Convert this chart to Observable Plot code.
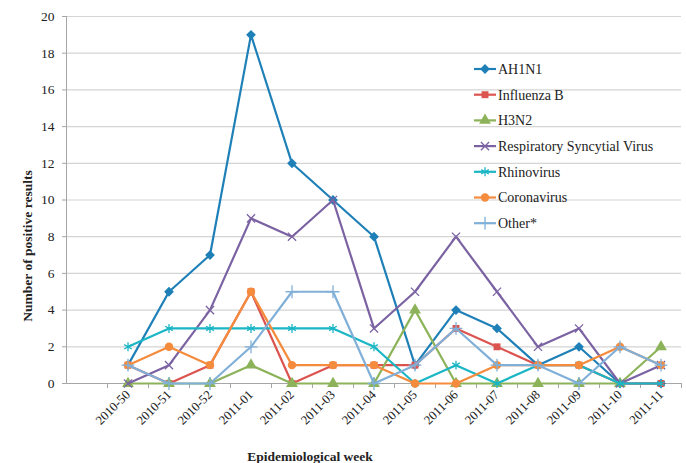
<!DOCTYPE html>
<html><head><meta charset="utf-8">
<script src="https://cdn.jsdelivr.net/npm/d3@7"></script>
<script src="https://cdn.jsdelivr.net/npm/@observablehq/plot@0.6"></script>
<style>
body{margin:0;background:#fff;}
#chart{position:relative;width:686px;height:463px;font-family:"Liberation Serif","Times New Roman",serif;color:#222;}
.ttl{position:absolute;font-weight:bold;font-size:13.5px;white-space:nowrap;}
</style></head><body><div id="chart"></div>
<script>
const weeks = ["2010-50","2010-51","2010-52","2011-01","2011-02","2011-03","2011-04","2011-05","2011-06","2011-07","2011-08","2011-09","2011-10","2011-11"];
const ah1n1       = [1,5,7,19,12,10,8,1,4,3,1,2,0,0];
const influenzaB  = [1,0,1,5,0,1,1,1,3,2,1,1,0,0];
const h3n2        = [0,0,0,1,0,0,0,4,0,0,0,0,0,2];
const rsv         = [0,1,4,9,8,10,3,5,8,5,2,3,0,1];
const rhinovirus  = [2,3,3,3,3,3,2,0,1,0,1,1,0,0];
const coronavirus = [1,2,1,5,1,1,1,0,0,1,1,1,2,1];
const other       = [1,0,0,2,5,5,0,1,3,1,1,0,2,1];
const seriesNames = ["AH1N1","Influenza B","H3N2","Respiratory Syncytial Virus","Rhinovirus","Coronavirus","Other*"];
const seriesValues = [ah1n1, influenzaB, h3n2, rsv, rhinovirus, coronavirus, other];
const colors = ["#1f80b8","#dc5450","#8cb35a","#7b62a2","#1bb6c6","#f58b3d","#80b0d8"];
const symbols = ["diamond2","square","triangle","times","asterisk","circle","plus"];
const filled  = [true,true,true,false,false,true,false];
const sizes   = [4.4,3.9,4.4,3.8,4.2,4.2,4.2];
const yTicks = d3.range(0, 21, 2);

const n = weeks.length;
const rows = seriesNames.map((s, k) => seriesValues[k].map((v, i) => ({series: s, k, idx: i + 1, week: weeks[i], value: v})));
const boundaries = d3.range(0.5, n + 1, 1);

const marks = [
  Plot.gridY(yTicks, {stroke: "#d4d4d4", strokeOpacity: 1, strokeWidth: 1.2}),
  Plot.ruleX([-0.5], {stroke: "#a6a6a6"}),
  Plot.ruleY([0], {stroke: "#a6a6a6"}),
  Plot.axisY(yTicks, {tickSize: 4, tickPadding: 8, label: null, fontSize: 13.5, stroke: "#a6a6a6", color: "#222"}),
  Plot.axisX(boundaries, {tickSize: 5, tickFormat: () => "", label: null, stroke: "#a6a6a6"}),
  Plot.axisX(d3.range(1, n + 1), {tickSize: 0, tickPadding: 9, tickRotate: -45, tickFormat: i => weeks[i - 1], label: null, fontSize: 12.8, color: "#222"})
];
rows.forEach((data, k) => {
  marks.push(Plot.line(data, {x: "idx", y: "value", stroke: colors[k], strokeWidth: 2.2}));
  marks.push(Plot.dot(data, filled[k]
    ? {x: "idx", y: "value", symbol: () => symbols[k], r: sizes[k], fill: colors[k], stroke: "none"}
    : {x: "idx", y: "value", symbol: () => symbols[k], r: sizes[k], stroke: colors[k], strokeWidth: 1.3, fill: "none"}));
});

const svg = Plot.plot({
  width: 686, height: 463,
  marginLeft: 66, marginRight: 5, marginTop: 16, marginBottom: 80,
  style: {fontFamily: "Liberation Serif, Times New Roman, serif", background: "#fff", color: "#222"},
  x: {type: "linear", domain: [-0.5, n + 0.5], axis: null},
  y: {domain: [0, 20], axis: null},
  symbol: {type: "identity"},
  marks
});
const chart = document.getElementById("chart");
chart.appendChild(svg);

// legend
const lg = d3.select(svg).append("g")
  .attr("font-family", "Liberation Serif, Times New Roman, serif")
  .attr("font-size", 14).attr("fill", "#222").attr("text-anchor", "start");
const symMap = {diamond2: d3.symbolDiamond2, square: d3.symbolSquare, triangle: d3.symbolTriangle, times: d3.symbolTimes, asterisk: d3.symbolAsterisk, circle: d3.symbolCircle, plus: d3.symbolPlus};
seriesNames.forEach((s, k) => {
  const g = lg.append("g").attr("transform", `translate(474,${69 + k * 25.7})`);
  g.append("line").attr("x1", 0).attr("x2", 22).attr("stroke", colors[k]).attr("stroke-width", 2.2);
  const area = Math.PI * sizes[k] * sizes[k];
  const p = g.append("path").attr("transform", "translate(11,0)").attr("d", d3.symbol(symMap[symbols[k]], area)());
  if (filled[k]) p.attr("fill", colors[k]); else p.attr("fill", "none").attr("stroke", colors[k]).attr("stroke-width", 1.3);
  g.append("text").attr("x", 24).attr("dy", "0.35em").text(s);
});

const yl = document.createElement("div");
yl.className = "ttl"; yl.textContent = "Number of positive results";
yl.style.left = "28px"; yl.style.top = "246px";
yl.style.transform = "translate(-50%,-50%) rotate(-90deg)";
chart.appendChild(yl);
const xl = document.createElement("div");
xl.className = "ttl"; xl.textContent = "Epidemiological week";
xl.style.left = "310px"; xl.style.top = "457px";
xl.style.transform = "translate(-50%,-50%)";
chart.appendChild(xl);
</script></body></html>
